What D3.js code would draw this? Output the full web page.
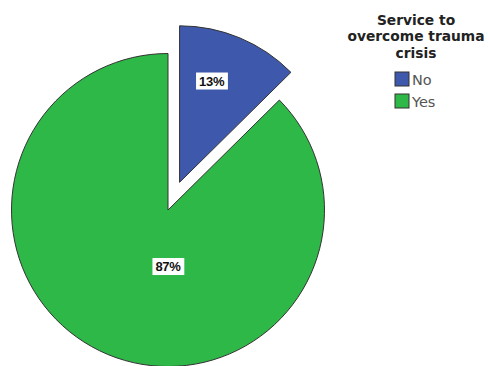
<!DOCTYPE html>
<html><head><meta charset="utf-8">
<script src="https://cdn.jsdelivr.net/npm/d3@7"></script>
<style>body{margin:0;background:#fff}svg{display:block}</style>
</head><body>
<svg id="c" width="489" height="366"></svg>
<script>
const categories = ["No", "Yes"];
const values = [12.6, 87.4];
const colors = ["#3E58AC", "#2EB848"];
const legendTitle = ["Service to", "overcome trauma", "crisis"];

const svg = d3.select("#c");
const cx = 168, cy = 210, r = 156.5, explode = 30;

const pie = d3.pie().sort(null).value(d => d)(values);
const arc = d3.arc().innerRadius(0).outerRadius(r);
const color = d3.scaleOrdinal().domain(categories).range(colors);
const total = d3.sum(values);

const g = svg.append("g").attr("transform", `translate(${cx},${cy})`);
pie.forEach((p, i) => {
  const mid = (p.startAngle + p.endAngle) / 2;
  const off = i === 0 ? explode : 0;
  const dx = Math.sin(mid) * off, dy = -Math.cos(mid) * off;
  const sg = g.append("g").attr("transform", `translate(${dx},${dy})`);
  sg.append("path").attr("d", arc(p)).attr("fill", color(categories[i]))
    .attr("stroke", "#333").attr("stroke-width", 1);
  let la, lr;
  if (p.endAngle - p.startAngle > Math.PI) { la = Math.PI; lr = r * 0.36; }
  else { la = mid - 0.09; lr = r * 0.68; }
  const lx = Math.sin(la) * lr, ly = -Math.cos(la) * lr;
  const txt = Math.round(values[i] / total * 100) + "%";
  const lg = sg.append("g").attr("transform", `translate(${lx},${ly})`);
  const t = lg.append("text").attr("text-anchor", "middle").attr("dy", "0.36em")
    .attr("font-family", "Liberation Sans, Arial, sans-serif").attr("font-weight", "bold")
    .attr("font-size", 13).attr("fill", "#111").attr("letter-spacing", "-0.3").text(txt);
  const bb = t.node().getBBox();
  lg.insert("rect", "text").attr("x", bb.x - 3).attr("y", bb.y - 1)
    .attr("width", bb.width + 6).attr("height", bb.height + 2).attr("fill", "#fff");
});

const lgx = 416;
svg.append("g").selectAll("text").data(legendTitle).join("text")
  .attr("x", lgx).attr("y", (d, i) => 25 + i * 16.3)
  .attr("text-anchor", "middle").attr("font-family", "DejaVu Sans, Verdana, sans-serif")
  .attr("font-weight", "bold").attr("font-size", 13.8).attr("fill", "#222").text(d => d);

const items = svg.append("g").selectAll("g").data(categories).join("g")
  .attr("transform", (d, i) => `translate(395,${72 + i * 22})`);
items.append("rect").attr("width", 14).attr("height", 14)
  .attr("fill", d => color(d)).attr("stroke", "#333").attr("stroke-width", 1);
items.append("text").attr("x", 17).attr("y", 7.5).attr("dy", "0.36em")
  .attr("font-family", "DejaVu Sans, Verdana, sans-serif").attr("font-size", 14.5)
  .attr("fill", "#555").text(d => d);
</script>
</body></html>
